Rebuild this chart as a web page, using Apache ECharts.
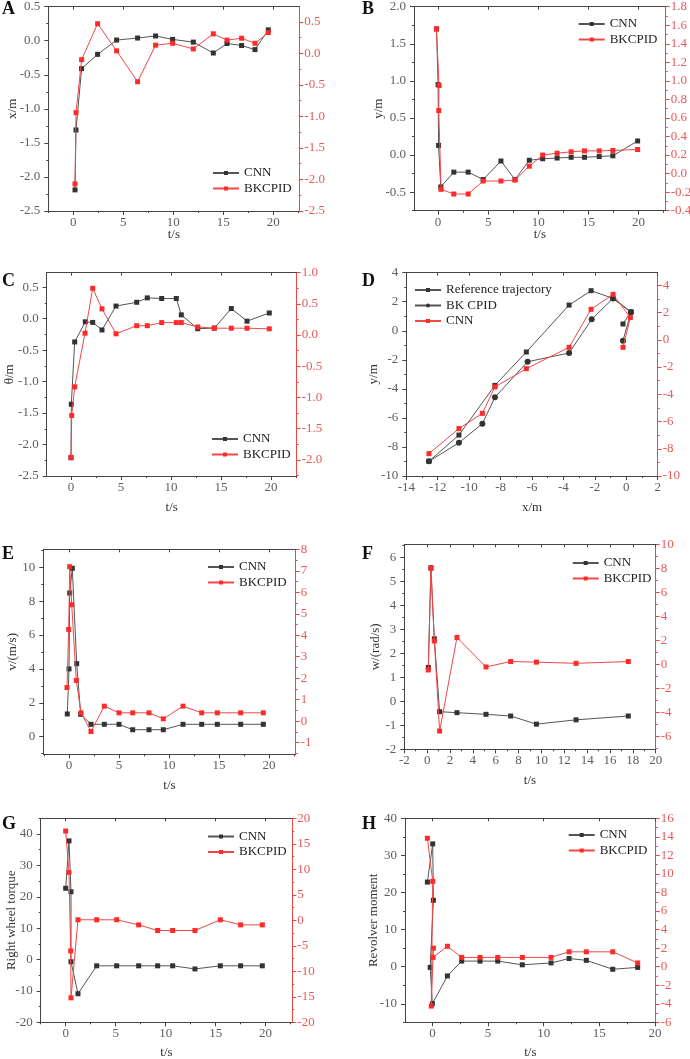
<!DOCTYPE html>
<html><head><meta charset="utf-8">
<script src="https://cdn.jsdelivr.net/npm/echarts@6/dist/echarts.min.js"></script>
<style>html,body{margin:0;padding:0;background:#fff}#c{width:690px;height:1059px}</style>
</head><body><div id="c"></div><script>
// ---------------- DATA ----------------
// Panel A: x/m vs t/s
const A_time = [0.17, 0.27, 0.83, 2.43, 4.33, 6.43, 8.23, 9.93, 12.0, 14.0, 15.37, 16.83, 18.17, 19.5];
const A_cnn = [-2.19, -1.31, -0.41, -0.20, 0.01, 0.04, 0.07, 0.02, -0.02, -0.18, -0.04, -0.07, -0.13, 0.16];
const A_bkcpid = [-2.07, -0.94, -0.10, 0.47, 0.04, -0.45, 0.13, 0.16, 0.07, 0.31, 0.21, 0.24, 0.16, 0.33];
// Panel B: y/m vs t/s
const B_cnn_time = [-0.15, 0.0, 0.05, 0.27, 1.57, 3.0, 4.5, 6.27, 7.67, 9.1, 10.43, 11.87, 13.27, 14.6, 16.07, 17.43, 19.9];
const B_cnn = [1.70, 0.95, 0.13, -0.43, -0.23, -0.23, -0.33, -0.08, -0.33, -0.07, -0.05, -0.04, -0.03, -0.03, -0.02, -0.01, 0.19];
const B_bk_time = [-0.17, 0.1, 0.07, 0.3, 1.57, 3.0, 4.5, 6.27, 7.67, 9.1, 10.43, 11.87, 13.27, 14.6, 16.07, 17.43, 19.9];
const B_bkcpid = [1.56, 0.95, 0.68, -0.17, -0.22, -0.22, -0.08, -0.08, -0.07, 0.08, 0.20, 0.22, 0.235, 0.245, 0.245, 0.25, 0.26];
// Panel C: θ/m vs t/s
const C_cnn_time = [0.0, 0.03, 0.37, 1.43, 2.17, 3.1, 4.5, 6.57, 7.63, 9.07, 10.53, 11.03, 12.67, 14.33, 16.03, 17.6, 19.83];
const C_cnn = [-2.21, -1.36, -0.37, -0.05, -0.06, -0.18, 0.20, 0.26, 0.33, 0.32, 0.32, 0.06, -0.16, -0.15, 0.16, -0.04, 0.09];
const C_bk_time = [0.0, 0.07, 0.37, 1.4, 2.17, 3.1, 4.5, 6.57, 7.63, 9.07, 10.53, 11.03, 12.67, 14.33, 16.03, 17.6, 19.83];
const C_bkcpid = [-1.96, -1.29, -0.83, 0.03, 0.75, 0.42, 0.02, 0.15, 0.15, 0.20, 0.20, 0.20, 0.13, 0.11, 0.11, 0.11, 0.10];
// Panel D: y/m vs x/m
const D_ref_x = [-12.56, -10.65, -8.36, -6.36, -3.64, -2.24, -0.84, 0.30, -0.21];
const D_ref_y = [-8.99, -7.18, -3.76, -1.46, 1.77, 2.76, 2.23, 1.31, 0.47];
const D_bk_x = [-12.56, -10.65, -9.16, -8.36, -6.28, -3.64, -2.2, -0.84, 0.30, -0.21];
const D_bk_y = [-8.99, -7.71, -6.40, -4.58, -2.13, -1.53, 0.79, 2.23, 1.27, -0.68];
const D_cnn_x = [-12.56, -10.65, -9.16, -8.36, -6.36, -3.64, -2.24, -0.84, 0.26, -0.21];
const D_cnn_y = [-8.36, -6.52, -5.40, -3.46, -2.12, -0.55, 2.24, 3.34, 1.63, -0.55];
// Panel E: v/(m/s) vs t/s
const E_cnn_time = [-0.17, 0.0, 0.07, 0.33, 0.77, 1.17, 2.2, 3.53, 5.0, 6.37, 8.0, 9.43, 11.4, 13.27, 14.83, 17.17, 19.43];
const E_cnn = [1.34, 4.0, 8.48, 9.94, 4.31, 1.32, 0.73, 0.73, 0.73, 0.41, 0.41, 0.41, 0.73, 0.73, 0.73, 0.73, 0.73];
const E_bk_time = [-0.2, -0.03, 0.07, 0.27, 0.73, 1.2, 2.2, 3.53, 5.0, 6.37, 8.0, 9.43, 11.4, 13.27, 14.83, 17.17, 19.43];
const E_bkcpid = [1.57, 4.27, 7.19, 5.42, 1.90, 0.39, -0.48, 0.70, 0.39, 0.39, 0.39, 0.11, 0.70, 0.39, 0.39, 0.39, 0.39];
// Panel F: w/(rad/s) vs t/s
const F_time = [0.1, 0.33, 0.63, 1.09, 2.61, 5.15, 7.31, 9.56, 13.03, 17.6];
const F_cnn = [1.42, 5.58, 2.61, -0.43, -0.47, -0.54, -0.61, -0.95, -0.77, -0.61];
const F_bkcpid = [-0.45, 8.0, 1.96, -5.53, 2.25, -0.2, 0.25, 0.2, 0.1, 0.25];
// Panel G: Right wheel torque vs t/s
const G_cnn_time = [0.0, 0.33, 0.53, 0.53, 1.23, 3.1, 5.1, 7.3, 9.2, 10.7, 12.93, 15.47, 17.5, 19.67];
const G_cnn = [22.7, 37.8, 21.6, -0.7, -10.9, -2.0, -2.0, -2.0, -2.0, -2.0, -3.0, -2.0, -2.0, -2.0];
const G_bk_time = [0.0, 0.33, 0.5, 0.53, 1.23, 3.1, 5.1, 7.3, 9.2, 10.7, 12.93, 15.47, 17.5, 19.67];
const G_bkcpid = [17.5, 9.4, -6.0, -15.2, 0.1, 0.1, 0.1, -0.9, -2.0, -2.0, -2.0, 0.1, -0.9, -0.9];
// Panel H: Revolver moment vs t/s
const H_cnn_time = [-0.45, 0.03, 0.09, -0.2, 0.0, 1.35, 2.63, 4.28, 5.87, 8.08, 10.66, 12.28, 13.83, 16.2, 18.44];
const H_cnn = [22.8, 33.1, 17.9, -0.2, -10.0, -2.5, 1.5, 1.5, 1.5, 0.5, 1.0, 2.2, 1.7, -0.7, -0.2];
const H_bk_time = [-0.45, 0.03, -0.1, 0.09, 0.06, 1.35, 2.63, 4.28, 5.87, 8.08, 10.66, 12.28, 13.83, 16.2, 18.44];
const H_bkcpid = [13.85, 9.2, -4.25, 2.0, 1.0, 2.2, 1.0, 1.0, 1.0, 1.0, 1.0, 1.6, 1.6, 1.6, 0.4];

// ---------------- STYLE / LAYOUT ----------------
const FONT = '"Liberation Serif", "Times New Roman", serif';
const AXIS = '#444', LEFT_LBL = '#5e5e5e', RIGHT_AXIS = '#ee4545', RIGHT_LBL = '#e85a5a';
const BLACK_LINE = '#555', BLACK_SYM = '#333', RED_LINE = '#f04848', RED_SYM = '#ff2a2a';

function rng(min, max, step) {
  const out = []; const s = Math.ceil(min / step - 1e-9);
  for (let k = s; k * step <= max + 1e-9; k++) out.push(+(k * step).toFixed(6));
  return out;
}
function minorVals(min, max, major, minor) {
  return rng(min, max, minor).filter(v => Math.abs(v / major - Math.round(v / major)) > 1e-6);
}
function zip(xs, ys) { return xs.map((x, i) => [x, ys[i]]); }

const panels = [
  { key: 'A', box: [48.3, 6.7, 299.3, 211], letter: [2, 0],
    x: { min: -2.5, max: 22.6, major: 5, minor: 2.5, dec: 0, name: 't/s', gap: 17 },
    yl: { min: -2.5, max: 0.5, major: 0.5, minor: 0.25, dec: 1, name: 'x/m', gap: 29 },
    yr: { min: -2.5, max: 0.74, major: 0.5, minor: 0.25, dec: 1 },
    legend: [212, 166.5],
    series: [{ n: 'CNN', x: A_time, y: A_cnn, side: 'l', red: false }, { n: 'BKCPID', x: A_time, y: A_bkcpid, side: 'r', red: true }] },
  { key: 'B', box: [414, 6.7, 665.7, 210.7], letter: [362, 0],
    x: { min: -2.4, max: 22.7, major: 5, minor: 2.5, dec: 0, name: 't/s', gap: 17 },
    yl: { min: -0.75, max: 2.0, major: 0.5, minor: 0.25, dec: 1, name: 'y/m', gap: 29 },
    yr: { min: -0.4, max: 1.8, major: 0.2, minor: 0.1, dec: 1 },
    legend: [577.7, 17.5],
    series: [{ n: 'CNN', x: B_cnn_time, y: B_cnn, side: 'l', red: false }, { n: 'BKCPID', x: B_bk_time, y: B_bkcpid, side: 'r', red: true }] },
  { key: 'C', box: [46.7, 272.7, 296.7, 476], letter: [2, 272],
    x: { min: -2.43, max: 22.57, major: 5, minor: 2.5, dec: 0, name: 't/s', gap: 25 },
    yl: { min: -2.5, max: 0.73, major: 0.5, minor: 0.25, dec: 1, name: 'θ/m', gap: 31 },
    yr: { min: -2.26, max: 1.0, major: 0.5, minor: 0.25, dec: 1 },
    legend: [211, 432.5],
    series: [{ n: 'CNN', x: C_cnn_time, y: C_cnn, side: 'l', red: false }, { n: 'BKCPID', x: C_bk_time, y: C_bkcpid, side: 'r', red: true }] },
  { key: 'D', box: [406.3, 272.7, 657.7, 476], letter: [362, 272],
    x: { min: -14, max: 2, major: 2, minor: 1, dec: 0, name: 'x/m', gap: 25 },
    yl: { min: -10, max: 4, major: 2, minor: 1, dec: 0, name: 'y/m', gap: 26 },
    yr: { min: -10, max: 4.93, major: 2, minor: 1, dec: 0 },
    legend: [414, 283.5],
    series: [{ n: 'Reference trajectory', x: D_ref_x, y: D_ref_y, side: 'l', red: false },
             { n: 'BK CPID', x: D_bk_x, y: D_bk_y, side: 'l', red: false, symbol: 'circle' },
             { n: 'CNN', x: D_cnn_x, y: D_cnn_y, side: 'r', red: true }] },
  { key: 'E', box: [43.3, 549.3, 295.7, 754.3], letter: [2, 545],
    x: { min: -2.57, max: 22.67, major: 5, minor: 2.5, dec: 0, name: 't/s', gap: 25 },
    yl: { min: -1.04, max: 11.06, major: 2, minor: 1, dec: 0, name: 'v/(m/s)', gap: 24 },
    yr: { min: -1.54, max: 8, major: 1, minor: 0.5, dec: 0 },
    legend: [207, 560.5],
    series: [{ n: 'CNN', x: E_cnn_time, y: E_cnn, side: 'l', red: false }, { n: 'BKCPID', x: E_bk_time, y: E_bkcpid, side: 'r', red: true }] },
  { key: 'F', box: [404.3, 544.3, 655.7, 749.3], letter: [362, 545],
    x: { min: -2, max: 20, major: 2, minor: 1, dec: 0, name: 't/s', gap: 25 },
    yl: { min: -2, max: 6.56, major: 1, minor: 0.5, dec: 0, name: 'w/(rad/s)', gap: 22 },
    yr: { min: -7.05, max: 10, major: 2, minor: 1, dec: 0 },
    legend: [571.7, 556.5],
    series: [{ n: 'CNN', x: F_time, y: F_cnn, side: 'l', red: false }, { n: 'BKCPID', x: F_time, y: F_bkcpid, side: 'r', red: true }] },
  { key: 'G', box: [40.7, 818.3, 292.3, 1022.3], letter: [2, 815],
    x: { min: -2.5, max: 22.67, major: 5, minor: 2.5, dec: 0, name: 't/s', gap: 24 },
    yl: { min: -20, max: 45, major: 10, minor: 5, dec: 0, name: 'Right wheel torque', gap: 23 },
    yr: { min: -20, max: 20, major: 5, minor: 2.5, dec: 0 },
    legend: [207, 830],
    series: [{ n: 'CNN', x: G_cnn_time, y: G_cnn, side: 'l', red: false }, { n: 'BKCPID', x: G_bk_time, y: G_bkcpid, side: 'r', red: true }] },
  { key: 'H', box: [405, 818.3, 655.7, 1022.3], letter: [362, 815],
    x: { min: -2.46, max: 20.06, major: 5, minor: 2.5, dec: 0, name: 't/s', gap: 24 },
    yl: { min: -15, max: 40, major: 10, minor: 5, dec: 0, name: 'Revolver moment', gap: 25 },
    yr: { min: -6, max: 16, major: 2, minor: 1, dec: 0 },
    legend: [567.7, 828.5],
    series: [{ n: 'CNN', x: H_cnn_time, y: H_cnn, side: 'l', red: false }, { n: 'BKCPID', x: H_bk_time, y: H_bkcpid, side: 'r', red: true }] }
];

const option = { animation: false, backgroundColor: '#fff', textStyle: { fontFamily: FONT },
  grid: [], xAxis: [], yAxis: [], series: [], legend: [], graphic: [] };

const fmt = d => v => (Math.abs(v) < 1e-9 ? 0 : v).toFixed(d);
const nameStyle = { fontFamily: FONT, fontSize: 13, color: '#333' };

panels.forEach((p, i) => {
  const [l, t, r, b] = p.box;
  option.grid.push({ left: l, top: t, width: r - l, height: b - t, show: false, containLabel: false, outerBoundsMode: 'none' });
  const X = p.x, YL = p.yl, YR = p.yr;
  const xMaj = rng(X.min, X.max, X.major), xMin = minorVals(X.min, X.max, X.major, X.minor);
  const base = { gridIndex: i, type: 'value', splitLine: { show: false } };
  // x axes
  option.xAxis.push(Object.assign({}, base, { min: X.min, max: X.max, position: 'bottom',
    axisLine: { show: true, onZero: false, lineStyle: { color: AXIS, width: 1 } },
    axisTick: { show: true, inside: false, customValues: xMaj, length: 4, lineStyle: { color: AXIS } },
    axisLabel: { show: true, customValues: xMaj, formatter: fmt(X.dec), color: LEFT_LBL, fontFamily: FONT, fontSize: 13, margin: 5 },
    name: X.name, nameLocation: 'middle', nameGap: X.gap, nameMoveOverlap: false, nameTextStyle: nameStyle }));
  option.xAxis.push(Object.assign({}, base, { min: X.min, max: X.max, position: 'bottom',
    axisLine: { show: false, onZero: false },
    axisTick: { show: true, inside: false, customValues: xMin, length: 2, lineStyle: { color: AXIS } },
    axisLabel: { show: false } }));
  option.xAxis.push(Object.assign({}, base, { min: X.min, max: X.max, position: 'top',
    axisLine: { show: true, onZero: false, lineStyle: { color: AXIS, width: 1 } },
    axisTick: { show: true, inside: true, customValues: xMaj, length: 3, lineStyle: { color: AXIS } },
    axisLabel: { show: false } }));
  // left y axes
  const ylMaj = rng(YL.min, YL.max, YL.major), ylMin = minorVals(YL.min, YL.max, YL.major, YL.minor);
  option.yAxis.push(Object.assign({}, base, { min: YL.min, max: YL.max, position: 'left',
    axisLine: { show: true, onZero: false, lineStyle: { color: AXIS, width: 1 } },
    axisTick: { show: true, inside: false, customValues: ylMaj, length: 4, lineStyle: { color: AXIS } },
    axisLabel: { show: true, customValues: ylMaj, formatter: fmt(YL.dec), color: LEFT_LBL, fontFamily: FONT, fontSize: 13, margin: 8 },
    name: YL.name, nameLocation: 'middle', nameRotate: 90, nameGap: YL.gap, nameMoveOverlap: false, nameTextStyle: nameStyle }));
  option.yAxis.push(Object.assign({}, base, { min: YL.min, max: YL.max, position: 'left',
    axisLine: { show: false, onZero: false },
    axisTick: { show: true, inside: false, customValues: ylMin, length: 2, lineStyle: { color: AXIS } },
    axisLabel: { show: false } }));
  // right y axes
  const yrMaj = rng(YR.min, YR.max, YR.major), yrMin = minorVals(YR.min, YR.max, YR.major, YR.minor);
  option.yAxis.push(Object.assign({}, base, { min: YR.min, max: YR.max, position: 'right',
    axisLine: { show: true, onZero: false, lineStyle: { color: RIGHT_AXIS, width: 1 } },
    axisTick: { show: true, inside: false, customValues: yrMaj, length: 4, lineStyle: { color: RIGHT_AXIS } },
    axisLabel: { show: true, customValues: yrMaj, formatter: fmt(YR.dec), color: RIGHT_LBL, fontFamily: FONT, fontSize: 13, margin: 5 } }));
  option.yAxis.push(Object.assign({}, base, { min: YR.min, max: YR.max, position: 'right',
    axisLine: { show: false, onZero: false },
    axisTick: { show: true, inside: false, customValues: yrMin, length: 2, lineStyle: { color: RIGHT_AXIS } },
    axisLabel: { show: false } }));
  // series
  const names = [];
  p.series.forEach(s => {
    const nm = p.key + '|' + s.n;
    names.push(nm);
    option.series.push({ type: 'line', name: nm, xAxisIndex: 3 * i, yAxisIndex: s.side === 'l' ? 4 * i : 4 * i + 2,
      data: zip(s.x, s.y), symbol: s.symbol || 'rect', symbolSize: s.symbol === 'circle' ? 6 : 5, showSymbol: true,
      lineStyle: { color: s.red ? RED_LINE : BLACK_LINE, width: 1 },
      itemStyle: { color: s.red ? RED_SYM : BLACK_SYM },
      z: s.red ? 4 : 3, clip: false, animation: false, silent: true });
  });
  option.legend.push({ left: p.legend[0], top: p.legend[1], orient: 'vertical', padding: 0, itemGap: 2.5,
    itemWidth: 26, itemHeight: 5, data: names, selectedMode: false,
    formatter: n => n.split('|')[1],
    textStyle: { fontFamily: FONT, fontSize: 13, color: '#222', lineHeight: 13 } });
  option.graphic.push({ type: 'text', left: p.letter[0], top: p.letter[1],
    style: { text: p.key, font: 'bold 18px "Liberation Serif", serif', fill: '#111' } });
});

const chart = echarts.init(document.getElementById('c'), null, { renderer: 'canvas' });
chart.setOption(option);
</script></body></html>
